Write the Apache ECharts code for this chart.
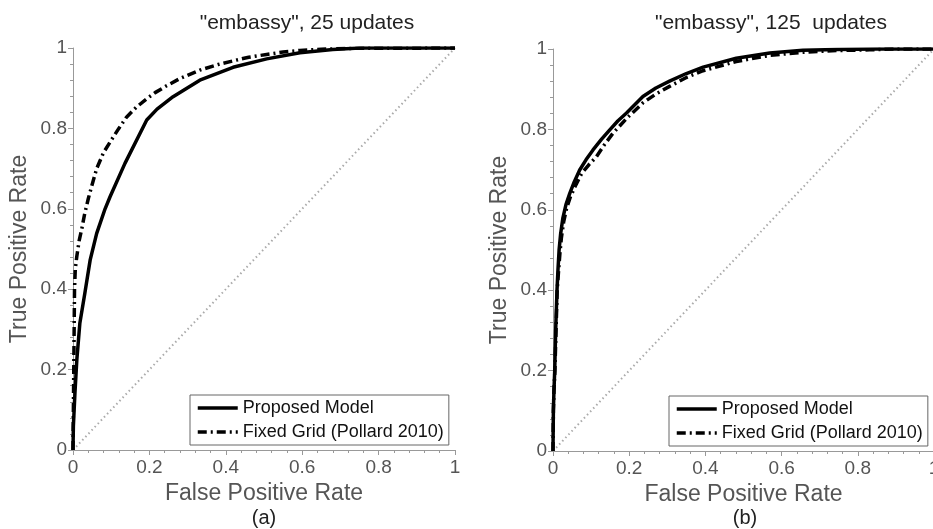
<!DOCTYPE html>
<html><head><meta charset="utf-8">
<script src="https://cdn.jsdelivr.net/npm/echarts@6/dist/echarts.min.js"></script>
<style>html,body{margin:0;padding:0;background:#fff}#c{width:933px;height:529px}</style>
</head><body><div id="c"></div>
<script>
// ---- data ----
const titles = ['"embassy", 25 updates', '"embassy", 125  updates'];
const panelTags = ['(a)', '(b)'];
const seriesNames = ['Proposed Model', 'Fixed Grid (Pollard 2010)'];
const axisTicks = [0, 0.2, 0.4, 0.6, 0.8, 1];

const aPropX = [0, 0.001, 0.005, 0.01, 0.018, 0.031, 0.045, 0.062, 0.084, 0.097, 0.136, 0.193, 0.22, 0.262, 0.332, 0.419, 0.507, 0.594, 0.68, 0.75, 1];
const aPropY = [0, 0.06, 0.14, 0.224, 0.316, 0.39, 0.473, 0.539, 0.6, 0.63, 0.713, 0.821, 0.848, 0.879, 0.92, 0.952, 0.973, 0.988, 0.996, 1, 1];
const aGridX = [0, 0.002, 0.004, 0.006, 0.01, 0.016, 0.023, 0.03, 0.04, 0.05, 0.062, 0.08, 0.103, 0.12, 0.14, 0.165, 0.192, 0.215, 0.245, 0.28, 0.332, 0.38, 0.419, 0.46, 0.507, 0.55, 0.594, 0.65, 0.72, 1];
const aGridY = [0, 0.2, 0.4, 0.45, 0.482, 0.52, 0.55, 0.585, 0.625, 0.66, 0.7, 0.74, 0.775, 0.8, 0.828, 0.852, 0.873, 0.889, 0.906, 0.924, 0.945, 0.959, 0.968, 0.977, 0.984, 0.99, 0.994, 0.997, 0.999, 1];

const bPropX = [0, 0.001, 0.0025, 0.0045, 0.007, 0.0105, 0.013, 0.016, 0.02, 0.026, 0.034, 0.044, 0.056, 0.07, 0.087, 0.105, 0.127, 0.149, 0.17, 0.193, 0.236, 0.27, 0.306, 0.35, 0.394, 0.481, 0.569, 0.656, 0.744, 0.85, 1];
const bPropY = [0, 0.1, 0.15, 0.2, 0.3, 0.4, 0.45, 0.5, 0.54, 0.58, 0.613, 0.641, 0.67, 0.699, 0.725, 0.749, 0.775, 0.799, 0.821, 0.841, 0.882, 0.903, 0.92, 0.939, 0.955, 0.977, 0.99, 0.997, 0.999, 1, 1];
const bGridX = [0, 0.001, 0.0025, 0.005, 0.008, 0.011, 0.014, 0.018, 0.022, 0.028, 0.036, 0.046, 0.06, 0.075, 0.094, 0.114, 0.135, 0.157, 0.194, 0.236, 0.27, 0.306, 0.35, 0.394, 0.481, 0.569, 0.656, 0.744, 0.831, 0.9, 1];
const bGridY = [0, 0.1, 0.15, 0.2, 0.3, 0.4, 0.44, 0.49, 0.53, 0.57, 0.605, 0.633, 0.662, 0.69, 0.712, 0.732, 0.762, 0.79, 0.828, 0.866, 0.888, 0.907, 0.929, 0.946, 0.969, 0.984, 0.992, 0.996, 0.998, 1, 1];

const chanceX = [0, 1];
const chanceY = [0, 1];

// ---- chart ----
const zip = (xs, ys) => xs.map((x, i) => [x, ys[i]]);
const FONT = 'Liberation Sans, Arial, sans-serif';
const grids = [
  { left: 73, top: 48, width: 382, height: 402, outerBoundsMode: 'none', containLabel: false },
  { left: 553, top: 49, width: 381, height: 402, outerBoundsMode: 'none', containLabel: false }
];
function axis(i, isX) {
  return {
    type: 'value', gridIndex: i, min: 0, max: 1, interval: 0.2,
    name: isX ? 'False Positive Rate' : 'True Positive Rate',
    nameLocation: 'middle', nameGap: isX ? 29 : 42,
    nameTextStyle: { fontSize: 23, color: '#555', fontFamily: FONT },
    axisLine: { show: true, onZero: false, lineStyle: { color: '#999', width: 1 } },
    axisTick: { show: true, length: 5, lineStyle: { color: '#999' } },
    minorTick: { show: true, splitNumber: 5, length: 3, lineStyle: { color: '#999' } },
    splitLine: { show: false },
    axisLabel: { fontSize: 19, color: '#555', fontFamily: FONT, margin: isX ? 8 : 6, showMinLabel: true, showMaxLabel: true, hideOverlap: false }
  };
}
const dashDot = [9, 4, 2, 4];
function panel(i, px, py, gx, gy) {
  return [
    { type: 'line', name: 'chance', xAxisIndex: i, yAxisIndex: i, data: zip(chanceX, chanceY), symbol: 'none', silent: true,
      lineStyle: { color: '#aaa', width: 2, type: [1.5, 3] }, z: 1 },
    { type: 'line', name: seriesNames[1], xAxisIndex: i, yAxisIndex: i, data: zip(gx, gy), symbol: 'none',
      lineStyle: { color: '#000', width: 3.5, type: dashDot }, itemStyle: { color: '#000' }, z: 2 },
    { type: 'line', name: seriesNames[0], xAxisIndex: i, yAxisIndex: i, data: zip(px, py), symbol: 'none',
      lineStyle: { color: '#000', width: 3.5 }, itemStyle: { color: '#000' }, z: 3 }
  ];
}
function legend(left, top) {
  return {
    left, top, orient: 'vertical', data: seriesNames, itemWidth: 40, itemHeight: 14, itemGap: 6,
    borderColor: '#666', borderWidth: 1, backgroundColor: '#fff', padding: [4, 5, 4, 6], borderRadius: 0,
    itemStyle: { opacity: 0 },
    lineStyle: { width: 3.5 },
    textStyle: { fontSize: 18, color: '#111', fontFamily: FONT }, selectedMode: false
  };
}
const chart = echarts.init(document.getElementById('c'), null, { renderer: 'canvas' });
const tStyle = { fontSize: 21, fontWeight: 'normal', color: '#222', fontFamily: FONT };
chart.setOption({
  animation: false,
  backgroundColor: '#fff',
  title: [
    { text: titles[0], left: 302, top: 8, textAlign: 'center', textStyle: tStyle },
    { text: titles[1], left: 766, top: 8, textAlign: 'center', textStyle: tStyle },
    { text: panelTags[0], left: 264, top: 508, padding: 0, textAlign: 'center', textStyle: Object.assign({}, tStyle, { fontSize: 20 }) },
    { text: panelTags[1], left: 745, top: 508, padding: 0, textAlign: 'center', textStyle: Object.assign({}, tStyle, { fontSize: 20 }) }
  ],
  grid: grids,
  xAxis: [axis(0, true), axis(1, true)],
  yAxis: [axis(0, false), axis(1, false)],
  legend: [legend(190, 395), legend(669, 396)],
  series: [].concat(panel(0, aPropX, aPropY, aGridX, aGridY), panel(1, bPropX, bPropY, bGridX, bGridY))
});
</script></body></html>
